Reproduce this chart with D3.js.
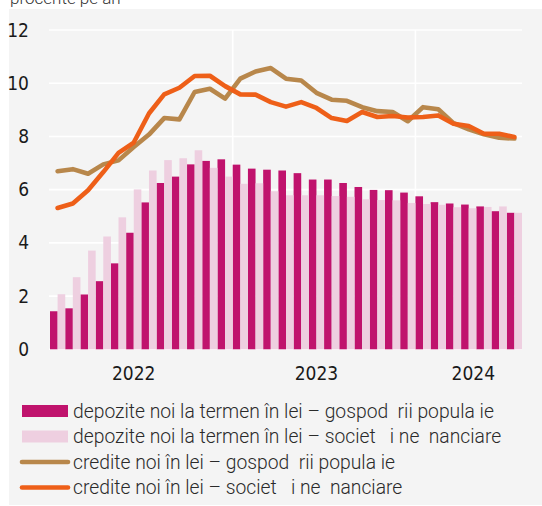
<!DOCTYPE html>
<html>
<head>
<meta charset="utf-8">
<script src="https://cdn.jsdelivr.net/npm/d3@7"></script>
<style>
  html, body { margin: 0; padding: 0; background: #ffffff; }
  svg { display: block; }
  .legend text { white-space: pre; }
</style>
</head>
<body>
<div id="chart"></div>
<script>
// ---- data ----
const months = [
  "2022-01","2022-02","2022-03","2022-04","2022-05","2022-06","2022-07","2022-08","2022-09","2022-10","2022-11","2022-12",
  "2023-01","2023-02","2023-03","2023-04","2023-05","2023-06","2023-07","2023-08","2023-09","2023-10","2023-11","2023-12",
  "2024-01","2024-02","2024-03","2024-04","2024-05","2024-06","2024-07"
];
const depoziteGospodarii = [1.43,1.54,2.06,2.56,3.23,4.38,5.52,6.25,6.49,6.95,7.08,7.14,6.94,6.79,6.75,6.72,6.62,6.38,6.38,6.25,6.10,5.99,5.98,5.89,5.75,5.53,5.48,5.44,5.37,5.19,5.13];
const depoziteSocietati = [2.07,2.71,3.71,4.24,4.96,6.01,6.72,7.11,7.18,7.48,6.82,6.49,6.22,6.24,5.94,5.79,5.79,5.79,5.76,5.73,5.64,5.61,5.60,5.50,5.46,5.43,5.34,5.30,5.35,5.37,5.13];
const crediteGospodarii = [6.69,6.77,6.60,6.95,7.10,7.60,8.07,8.69,8.64,9.67,9.79,9.42,10.17,10.44,10.57,10.17,10.10,9.64,9.38,9.34,9.10,8.95,8.92,8.57,9.10,9.02,8.50,8.27,8.08,7.95,7.92];
const crediteSocietati = [5.31,5.48,5.98,6.66,7.38,7.77,8.86,9.58,9.83,10.27,10.28,9.89,9.58,9.57,9.29,9.12,9.29,9.07,8.69,8.58,8.92,8.73,8.77,8.71,8.73,8.79,8.48,8.39,8.10,8.10,7.98];
const yTicks = [0,2,4,6,8,10,12];
const yearLabels = ["2022","2023","2024"];
const yearLabelMonthPos = [5.5, 17.5, 27.8];   // position in month units
const yearBoundaries = ["2023-01","2024-01"];
const unitLabel = "procente pe an";
const seriesNames = [
  "depozite noi la termen în lei – gospod  rii popula ie",
  "depozite noi la termen în lei – societ   i ne  nanciare",
  "credite noi în lei – gospod  rii popula ie",
  "credite noi în lei – societ   i ne  nanciare"
];
const colors = ["#c0136d", "#eecfe0", "#b8874b", "#ee5f18"];

// ---- layout ----
const W = 542, H = 506;
const plot = { left: 50, right: 522, top: 30, bottom: 349.3 };

const svg = d3.select("#chart").append("svg").attr("width", W).attr("height", H);

svg.append("rect").attr("x", 9).attr("y", 9).attr("width", W - 9).attr("height", H - 9 - 1).attr("fill", "#f4f4f4");

svg.append("text").attr("x", 10).attr("y", 4)
  .attr("font-family", "Roboto, 'Liberation Sans', sans-serif").attr("font-weight", 300)
  .attr("font-size", 17).attr("fill", "#333").text(unitLabel);

const x = d3.scaleBand().domain(months).range([plot.left, plot.right]).padding(0);
const xm = d3.scaleLinear().domain([0, months.length]).range([plot.left, plot.right]);
const y = d3.scaleLinear().domain([0, 12]).range([plot.bottom, plot.top]);
const bw = x.bandwidth();

// grid
const g = svg.append("g");
g.selectAll("line.h").data(yTicks).join("line")
  .attr("x1", plot.left - 1).attr("x2", plot.right)
  .attr("y1", d => y(d)).attr("y2", d => y(d))
  .attr("stroke", "#ffffff").attr("stroke-width", 1.6);
g.selectAll("line.v").data(yearBoundaries).join("line")
  .attr("x1", d => x(d)).attr("x2", d => x(d))
  .attr("y1", plot.top).attr("y2", plot.bottom)
  .attr("stroke", "#ffffff").attr("stroke-width", 1.6);

// bars
svg.append("g").selectAll("rect").data(depoziteGospodarii).join("rect")
  .attr("x", (d, i) => x(months[i]))
  .attr("y", d => y(d)).attr("width", bw / 2).attr("height", d => y(0) - y(d))
  .attr("fill", colors[0]);
svg.append("g").selectAll("rect").data(depoziteSocietati).join("rect")
  .attr("x", (d, i) => x(months[i]) + bw / 2)
  .attr("y", d => y(d)).attr("width", bw / 2).attr("height", d => y(0) - y(d))
  .attr("fill", colors[1]);

// lines
const line = d3.line().x((d, i) => x(months[i]) + bw / 2).y(d => y(d));
[[crediteGospodarii, colors[2]], [crediteSocietati, colors[3]]].forEach(([data, c]) => {
  svg.append("path").datum(data).attr("d", line)
    .attr("fill", "none").attr("stroke", c).attr("stroke-width", 4.6)
    .attr("stroke-linejoin", "round").attr("stroke-linecap", "round");
});

// y axis
const yAxis = d3.axisLeft(y).tickValues(yTicks).tickSize(0).tickPadding(21).tickFormat(d3.format("d"));
const ya = svg.append("g").attr("transform", `translate(${plot.left},0)`).call(yAxis);
ya.select(".domain").remove();
ya.selectAll("text").attr("font-family", "'Liberation Sans Narrow', 'DejaVu Sans Condensed', sans-serif")
  .attr("font-size", 19).attr("fill", "#1a1a1a");

// year labels
svg.append("g").selectAll("text").data(yearLabels).join("text")
  .attr("x", (d, i) => xm(yearLabelMonthPos[i]))
  .attr("y", 380)
  .attr("text-anchor", "middle")
  .attr("font-family", "'Liberation Sans Narrow', 'DejaVu Sans Condensed', sans-serif")
  .attr("font-size", 19).attr("fill", "#1a1a1a")
  .text(d => d);

// legend
const leg = svg.append("g").attr("class", "legend");
const rowY = [411, 436.5, 462, 487.5];
seriesNames.forEach((name, i) => {
  if (i < 2) {
    leg.append("rect").attr("x", 22).attr("y", rowY[i] - 6).attr("width", 46).attr("height", 12).attr("fill", colors[i]);
  } else {
    leg.append("line").attr("x1", 22).attr("x2", 68).attr("y1", rowY[i]).attr("y2", rowY[i])
      .attr("stroke", colors[i]).attr("stroke-width", 4.6).attr("stroke-linecap", "round");
  }
  leg.append("text").attr("x", 73).attr("y", rowY[i]).attr("dy", "0.35em")
    .attr("font-family", "Roboto, 'Liberation Sans', sans-serif").attr("font-weight", 300)
    .attr("font-size", 19.3).attr("fill", "#2a2a2a").text(name);
});
</script>
</body>
</html>
